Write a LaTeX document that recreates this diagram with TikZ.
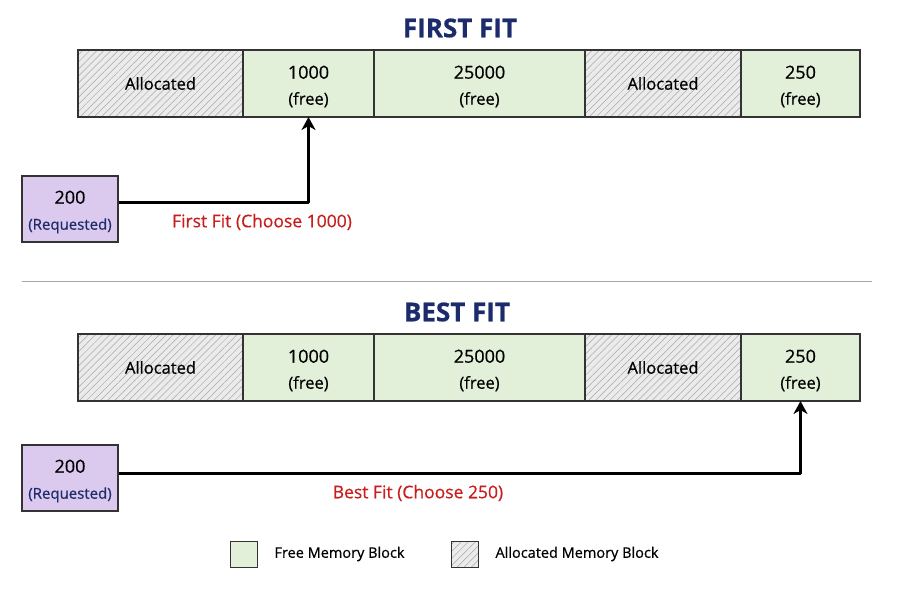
\documentclass[tikz,border=0pt]{standalone}
\usepackage{fontspec}
\setmainfont{Open Sans}[FakeBold=0.6]
\usetikzlibrary{positioning,patterns.meta,arrows.meta}

\definecolor{freegreen}{HTML}{E2EFD9}
\definecolor{allocgrey}{HTML}{EBEBEB}
\definecolor{hatchgrey}{HTML}{A8A8A8}
\definecolor{cellborder}{HTML}{333333}
\definecolor{reqpurple}{HTML}{DCC9EE}
\definecolor{titlenavy}{HTML}{1B2B6B}
\definecolor{fitred}{HTML}{C81E1E}

% size of the block numbers
\newcommand{\blocksize}[1]{\rule{0pt}{19pt}{\fontsize{18}{26}\selectfont #1}}

\tikzset{
	cell/.style = {draw=cellborder, line width=1.2pt, minimum height=67pt, inner sep=0pt, outer sep=0pt, align=center, font=\fontsize{16.5}{26}\selectfont},
	freecell/.style = {cell, fill=freegreen},
	alloccell/.style = {cell, preaction={fill=allocgrey}, pattern={Lines[angle=45, distance=5pt, line width=0.5pt]}, pattern color=hatchgrey},
	reqbox/.style = {draw=cellborder, line width=1.2pt, fill=reqpurple, minimum width=96pt, minimum height=66pt, inner sep=0pt, align=center, font=\fontsize{16.5}{26}\selectfont},
	title/.style = {text=titlenavy, font=\fontsize{26}{30}\selectfont\bfseries},
	fitlabel/.style = {text=fitred, font=\fontsize{17.5}{20}\selectfont},
	legendtext/.style = {anchor=west, font=\fontsize{14.5}{18}\selectfont},
	flow/.style = {-{Stealth[length=13pt, width=14pt, inset=4pt]}, line width=3pt, line join=round}
}

\begin{document}
\begin{tikzpicture}[x=1pt, y=-1pt]
	\useasboundingbox (0,0) rectangle (900,600);

	% first fit
	\node[title] (t1) at (460,28) {FIRST FIT};
	\node[alloccell, minimum width=165pt, anchor=north west] (fa1) at (78,50) {Allocated};
	\node[freecell, minimum width=131pt, right=0pt of fa1] (ff1) {\blocksize{1000}\\(free)};
	\node[freecell, minimum width=211pt, right=0pt of ff1] (ff2) {\blocksize{25000}\\(free)};
	\node[alloccell, minimum width=156pt, right=0pt of ff2] (fa2) {Allocated};
	\node[freecell, minimum width=119pt, right=0pt of fa2] (ff3) {\blocksize{250}\\(free)};

	\node[reqbox] (fr) at (70,209) {\blocksize{200}\\\textcolor{titlenavy}{\fontsize{15}{26}\selectfont(Requested)}};
	\draw[flow] ([yshift=7pt]fr.east) -| (ff1.south);
	\node[fitlabel] (fl) at (262,222) {First Fit (Choose 1000)};

	% separator
	\draw[gray!70, line width=0.8pt] (22,281) -- (872,281);

	% best fit
	\node[title] (t2) at (457,312) {BEST FIT};
	\node[alloccell, minimum width=165pt, anchor=north west] (ba1) at (78,334) {Allocated};
	\node[freecell, minimum width=131pt, right=0pt of ba1] (bf1) {\blocksize{1000}\\(free)};
	\node[freecell, minimum width=211pt, right=0pt of bf1] (bf2) {\blocksize{25000}\\(free)};
	\node[alloccell, minimum width=156pt, right=0pt of bf2] (ba2) {Allocated};
	\node[freecell, minimum width=119pt, right=0pt of ba2] (bf3) {\blocksize{250}\\(free)};

	\node[reqbox] (br) at (70,478) {\blocksize{200}\\\textcolor{titlenavy}{\fontsize{15}{26}\selectfont(Requested)}};
	\draw[flow] ([yshift=5pt]br.east) -| (bf3.south);
	\node[fitlabel] (bl) at (418,493) {Best Fit (Choose 250)};

	% legend
	\node[freecell, minimum width=27pt, minimum height=26pt, line width=0.8pt] (lg1) at (243.5,554) {};
	\node[legendtext, right=14pt of lg1] (lt1) {Free Memory Block};
	\node[alloccell, minimum width=27pt, minimum height=26pt, line width=0.8pt] (lg2) at (464.5,554) {};
	\node[legendtext, right=14pt of lg2] (lt2) {Allocated Memory Block};

\end{tikzpicture}
\end{document}
